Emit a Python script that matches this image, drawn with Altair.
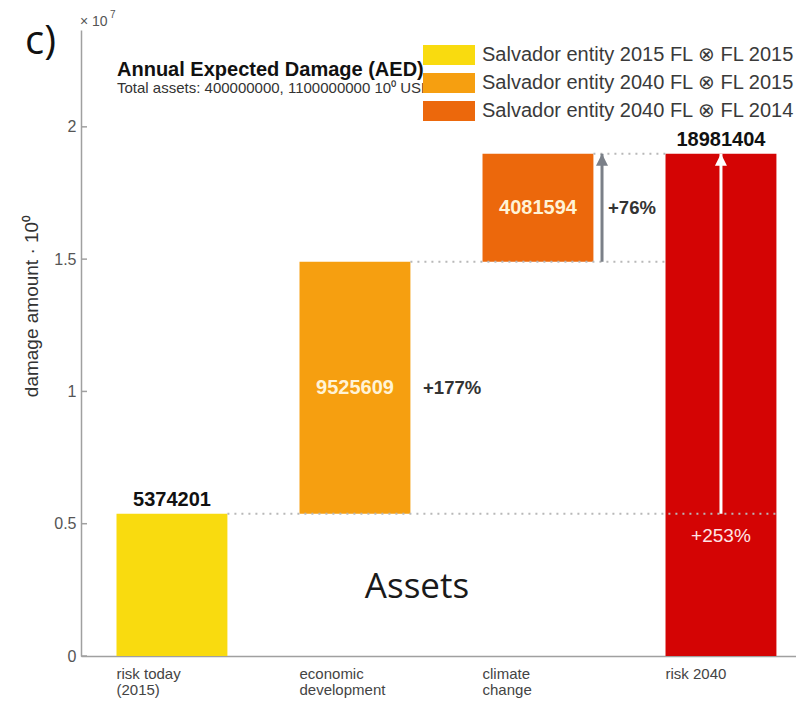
import altair as alt
import pandas as pd

# ---- data ----
categories = ["risk today\n(2015)", "economic\ndevelopment", "climate\nchange", "risk 2040"]
values = [5374201, 9525609, 4081594, 18981404]
bar_colors = ["#F9DB0F", "#F69F10", "#EC680C", "#D40404"]
pct_labels = ["", "+177%", "+76%", "+253%"]
legend_labels = [
    "Salvador entity 2015 FL \u2297 FL 2015",
    "Salvador entity 2040 FL \u2297 FL 2015",
    "Salvador entity 2040 FL \u2297 FL 2014",
]
legend_colors = bar_colors[:3]
y_ticks = [0, 5000000, 10000000, 15000000, 20000000]
y_max = 23660000

FONT = "Liberation Sans"
HALF = 0.303
W, H = 715, 626

idx = list(range(len(categories)))
start = [0, values[0], values[0] + values[1], 0]
end = [values[0], values[0] + values[1], values[0] + values[1] + values[2], values[3]]

bars_df = pd.DataFrame({
    "idx": idx, "cat": categories, "start": start, "end": end,
    "color": bar_colors, "val": [str(v) for v in values],
})
bars_df["x0"] = bars_df["idx"] - HALF
bars_df["x1"] = bars_df["idx"] + HALF
bars_df["mid"] = (bars_df["start"] + bars_df["end"]) / 2

xs = alt.Scale(domain=[-0.497, 3.41], nice=False, zero=False)
ys = alt.Scale(domain=[0, y_max], nice=False, zero=False)

bars = alt.Chart(bars_df).mark_rect().encode(
    x=alt.X("x0:Q", scale=xs, title=None,
            axis=alt.Axis(labels=False, ticks=False, grid=False, domainColor="#a0a0a0", domainWidth=1.5)),
    x2="x1:Q",
    y=alt.Y("start:Q", scale=ys, title=None,
            axis=alt.Axis(values=y_ticks, labelExpr="datum.value / 10000000", ticks=False, grid=False,
                          domainColor="#a0a0a0", domainWidth=1.5, labelFont=FONT, labelFontSize=16,
                          labelColor="#555555", labelPadding=5)),
    y2="end:Q",
    color=alt.Color("color:N", scale=None),
)

# inward y ticks
ticks_df = pd.DataFrame({"t": y_ticks})
ticks = alt.Chart(ticks_df).mark_rule(color="#a0a0a0", strokeWidth=1.5).encode(
    y=alt.Y("t:Q", scale=ys, title=None), x=alt.value(0), x2=alt.value(6)
)

# dotted connector lines
dot_df = pd.DataFrame({
    "y": [end[0], end[1], end[2]],
    "x0": [0 + HALF, 1 + HALF, 2 + HALF],
    "x1": [3 + HALF, 3 - HALF, 3 - HALF],
})
dots = alt.Chart(dot_df).mark_rule(color="#b8b8b8", strokeWidth=2, strokeDash=[2, 5]).encode(
    x=alt.X("x0:Q", scale=xs, title=None), x2="x1:Q", y=alt.Y("y:Q", scale=ys, title=None)
)

# value labels
out_df = bars_df[bars_df["idx"].isin([0, 3])]
out_lbl = alt.Chart(out_df).mark_text(font=FONT, fontSize=20, fontWeight="bold", color="#111111",
                                      baseline="middle", dy=-14).encode(
    x=alt.X("idx:Q", scale=xs, title=None), y=alt.Y("end:Q", scale=ys, title=None), text="val:N"
)
in_df = bars_df[bars_df["idx"].isin([1, 2])]
in_lbl = alt.Chart(in_df).mark_text(font=FONT, fontSize=20, fontWeight="bold", color="#FFF3D6",
                                    baseline="middle").encode(
    x=alt.X("idx:Q", scale=xs, title=None), y=alt.Y("mid:Q", scale=ys, title=None), text="val:N"
)

# percentage labels
pct_side_df = pd.DataFrame({
    "x": [1 + 0.372, 2 + 0.383],
    "y": [bars_df["mid"][1], bars_df["mid"][2]],
    "t": [pct_labels[1], pct_labels[2]],
})
pct_side = alt.Chart(pct_side_df).mark_text(font=FONT, fontSize=18.5, fontWeight="bold", color="#333333",
                                            align="left", baseline="middle").encode(
    x=alt.X("x:Q", scale=xs, title=None), y=alt.Y("y:Q", scale=ys, title=None), text="t:N"
)
pct_in_df = pd.DataFrame({"x": [3], "y": [values[0]], "t": [pct_labels[3]]})
pct_in = alt.Chart(pct_in_df).mark_text(font=FONT, fontSize=19, color="#FFE4E4",
                                        align="center", baseline="middle", dy=22).encode(
    x=alt.X("x:Q", scale=xs, title=None), y=alt.Y("y:Q", scale=ys, title=None), text="t:N"
)

# arrows
arr_df = pd.DataFrame({
    "x": [2 + 0.35, 3],
    "y0": [end[1], values[0]],
    "y1": [end[2], end[3]],
    "c": ["#7B8088", "#FFFFFF"],
})
arr_line = alt.Chart(arr_df).mark_rule(strokeWidth=3).encode(
    x=alt.X("x:Q", scale=xs, title=None), y=alt.Y("y0:Q", scale=ys, title=None), y2="y1:Q",
    color=alt.Color("c:N", scale=None)
)
arr_head = alt.Chart(arr_df).mark_point(shape="M0,0L-1,2L1,2Z", filled=True, size=144, opacity=1,
                                        strokeWidth=0).encode(
    x=alt.X("x:Q", scale=xs, title=None), y=alt.Y("y1:Q", scale=ys, title=None),
    color=alt.Color("c:N", scale=None)
)

# x category labels
xl_df = pd.DataFrame({"x": [i - HALF for i in idx], "t": categories})
xl = alt.Chart(xl_df).mark_text(font=FONT, fontSize=15, color="#444444", align="left", baseline="top",
                                lineBreak="\n", lineHeight=16).encode(
    x=alt.X("x:Q", scale=xs, title=None), y=alt.value(637), text="t:N"
)


def label(text, x, y, **kw):
    return alt.Chart(pd.DataFrame({"t": [text]})).mark_text(**kw).encode(
        x=alt.value(x), y=alt.value(y), text="t:N"
    )


ytitle = label("damage amount \u00b7 10\u2070", -49, 276, font=FONT, fontSize=19, color="#333333",
               angle=270, align="center", baseline="middle")
panel = label("c)", -56, 24, font="Open Sans", fontSize=40, color="#111111", align="left",
              baseline="alphabetic")
exp1 = label("\u00d7 10", -1, -4, font=FONT, fontSize=14, color="#555555", align="left",
             baseline="alphabetic")
exp2 = label("7", 29, -12, font=FONT, fontSize=10, color="#555555", align="left", baseline="alphabetic")
title = label("Annual Expected Damage (AED)", 36, 40, font=FONT, fontSize=20, fontWeight="bold",
              color="#111111", align="left", baseline="middle")
subtitle = label("Total assets: 400000000, 1100000000 10\u2070 USD", 36, 58, font=FONT, fontSize=15,
                 color="#333333", align="left", baseline="middle")
assets = label("Assets", 336, 557, font="Open Sans", fontSize=35, color="#1a1a1a", align="center",
               baseline="middle")

legend_layers = []
for i, (lab, col) in enumerate(zip(legend_labels, legend_colors)):
    top = 15 + 28 * i
    sw = alt.Chart(pd.DataFrame({"c": [col]})).mark_rect().encode(
        x=alt.value(342), x2=alt.value(394), y=alt.value(top), y2=alt.value(top + 20),
        color=alt.Color("c:N", scale=None)
    )
    tx = label(lab, 401, top + 10, font=FONT, fontSize=20, color="#3a3a3a", align="left",
               baseline="middle")
    legend_layers += [sw, tx]

chart = alt.layer(
    bars, ticks, dots, arr_line, arr_head, out_lbl, in_lbl, pct_side, pct_in, xl,
    ytitle, panel, exp1, exp2, title, subtitle, assets, *legend_layers
).properties(
    width=W, height=H,
    autosize=alt.AutoSizeParams(type="none"),
    padding={"left": 73, "top": 22, "right": 0, "bottom": 42},
    background="white",
).configure_view(strokeWidth=0)

chart.save("out.html", embed_options={"renderer": "svg", "actions": False})
